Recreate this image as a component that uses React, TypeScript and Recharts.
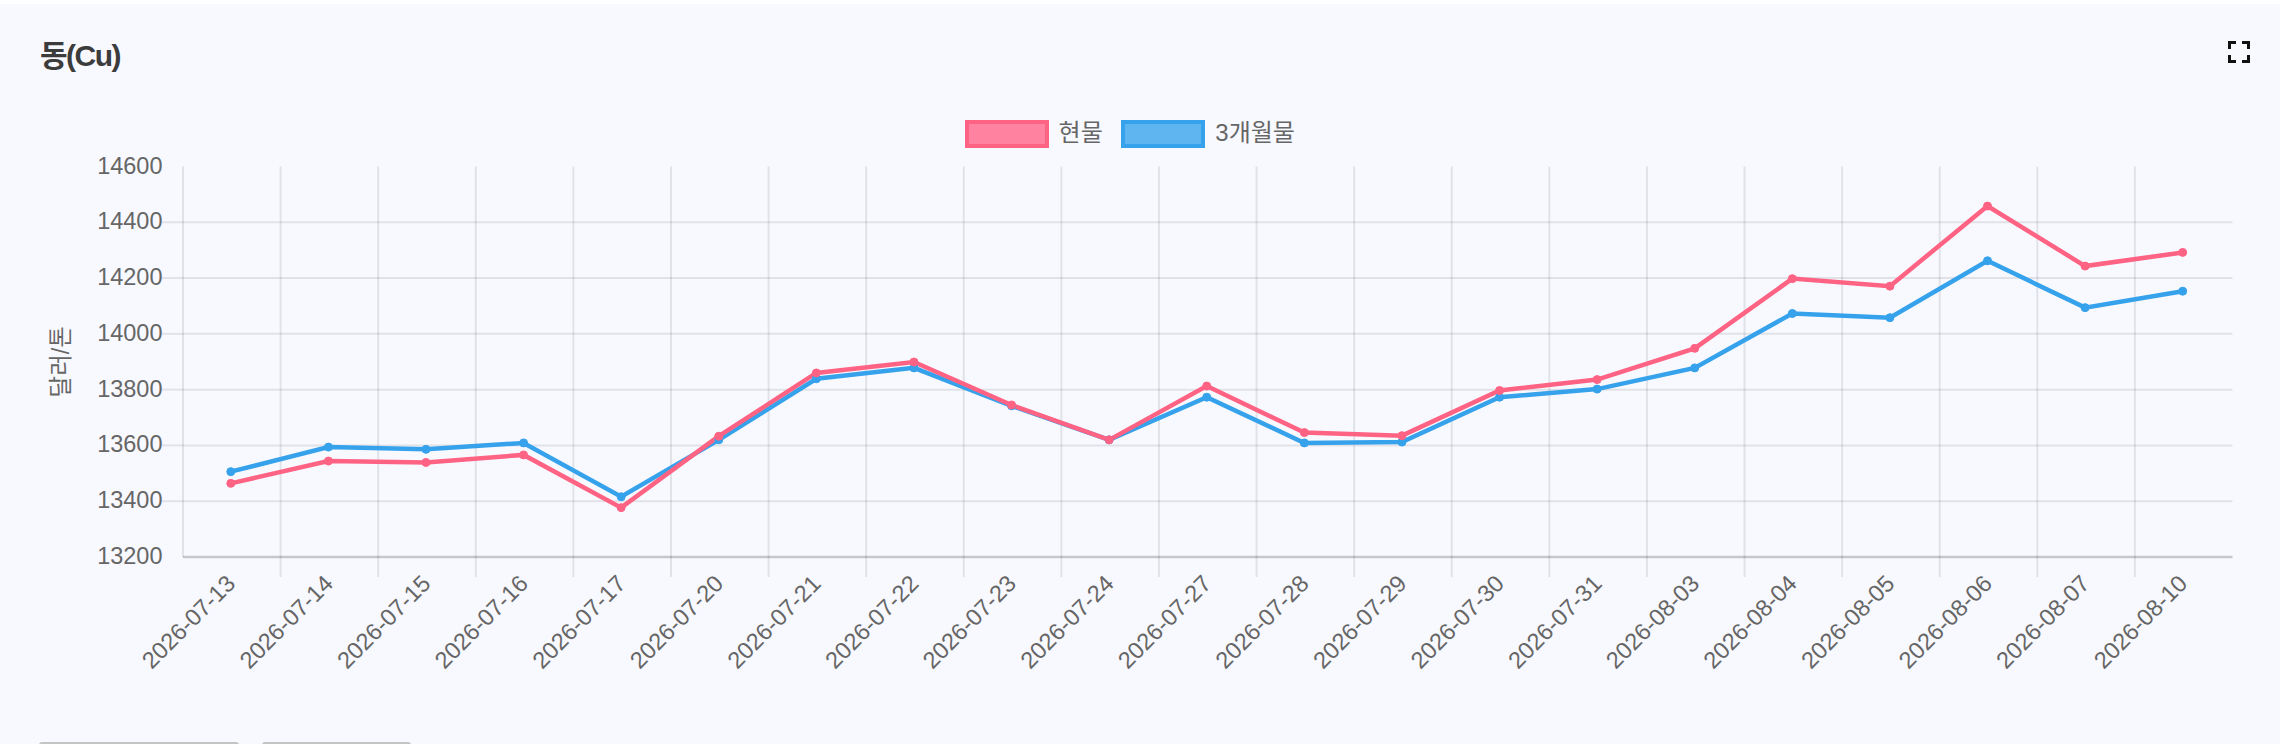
import { CartesianGrid, Legend, Line, LineChart, XAxis, YAxis } from 'recharts'

const dates = [
  '2026-07-13', '2026-07-14', '2026-07-15', '2026-07-16', '2026-07-17', '2026-07-20', '2026-07-21',
  '2026-07-22', '2026-07-23', '2026-07-24', '2026-07-27', '2026-07-28', '2026-07-29', '2026-07-30',
  '2026-07-31', '2026-08-03', '2026-08-04', '2026-08-05', '2026-08-06', '2026-08-07', '2026-08-10',
]
const spot = [
  13464, 13544, 13539, 13566, 13377, 13633, 13860, 13899, 13745, 13620, 13813,
  13646, 13635, 13797, 13836, 13948, 14198, 14171, 14458, 14243, 14292,
]
const threeMonth = [
  13506, 13594, 13586, 13609, 13416, 13620, 13839, 13878, 13742, 13620, 13773,
  13609, 13612, 13773, 13802, 13878, 14073, 14058, 14262, 14094, 14153,
]
const yTicks = [13200, 13400, 13600, 13800, 14000, 14200, 14400, 14600]
const innerGridValues = [13400, 13600, 13800, 14000, 14200, 14400]

const data = dates.map((date, i) => ({ date, spot: spot[i], threeMonth: threeMonth[i] }))

const WIDTH = 2280
const HEIGHT = 744
const PLOT_LEFT = 183
const PLOT_RIGHT = 2232.5
const BAND = (PLOT_RIGHT - PLOT_LEFT) / dates.length
const POINT_SHIFT = 1
const GRID = 'rgba(0,0,0,0.09)'
const TEXT = '#666'
const FONT = 'Liberation Sans, Arial, sans-serif'
const KR_FONT = '"Liberation Sans", "Noto Sans CJK KR", sans-serif'

const legendFill: Record<string, string> = { spot: '#ff83a0', threeMonth: '#5eb5f0' }

function XTick({ x, y, payload, index }: any) {
  const lineX = x - BAND / 2 + POINT_SHIFT
  return (
    <g>
      {index > 0 && <line x1={lineX} x2={lineX} y1={y - 20} y2={y} stroke={GRID} strokeWidth={2} />}
      <text
        x={x + 6}
        y={y + 8}
        textAnchor="end"
        fontSize={23.5}
        fontFamily={FONT}
        fill={TEXT}
        transform={`rotate(-45 ${x + 6} ${y + 8})`}
      >
        {payload.value}
      </text>
    </g>
  )
}

function YTick({ x, y, payload }: any) {
  const inner = innerGridValues.includes(payload.value)
  return (
    <g>
      {inner && <line x1={PLOT_LEFT - 21} x2={PLOT_LEFT} y1={y} y2={y} stroke={GRID} strokeWidth={2} />}
      <text x={162.5} y={y + 7} textAnchor="end" fontSize={23.5} fontFamily={FONT} fill={TEXT}>
        {payload.value}
      </text>
    </g>
  )
}

function LegendContent({ payload }: any) {
  return (
    <div style={{ display: 'flex', justifyContent: 'center', alignItems: 'center', height: 28, marginLeft: -2 }}>
      {[...(payload ?? [])].reverse().map((item: any) => (
        <div key={item.dataKey} style={{ display: 'flex', alignItems: 'center', marginRight: 18.5 }}>
          <span
            style={{
              display: 'inline-block',
              width: 84,
              height: 28,
              boxSizing: 'border-box',
              border: `4px solid ${item.color}`,
              background: legendFill[item.dataKey],
              marginRight: 10,
            }}
          />
          <span style={{ fontSize: 24, lineHeight: '24px', marginTop: -3, color: TEXT, fontFamily: KR_FONT }}>
            {item.value}
          </span>
        </div>
      ))}
    </div>
  )
}

function FullscreenIcon() {
  return (
    <svg width={22} height={22} viewBox="0 0 22 22" style={{ position: 'absolute', left: 2228, top: 41 }}>
      <path
        d="M1.5 8V1.5H8M14 1.5H20.5V8M20.5 14V20.5H14M8 20.5H1.5V14"
        fill="none"
        stroke="#111"
        strokeWidth={3}
      />
    </svg>
  )
}

export default function App() {
  return (
    <div style={{ position: 'absolute', left: 0, top: 0, width: WIDTH, height: HEIGHT, background: '#fff', overflow: 'hidden' }}>
      <div style={{ position: 'absolute', left: 0, top: 4, width: WIDTH, height: HEIGHT - 4, background: '#f8f9ff' }} />
      <div
        style={{
          position: 'absolute',
          left: 40,
          top: 36,
          fontSize: 30,
          lineHeight: '40px',
          fontWeight: 700,
          color: '#3c3c3c',
          letterSpacing: -1.5,
          fontFamily: KR_FONT,
        }}
      >
        동(Cu)
      </div>
      <FullscreenIcon />
      <div style={{ position: 'absolute', left: 39, top: 742, width: 200, height: 6, borderRadius: 4, background: '#c4c4c4' }} />
      <div style={{ position: 'absolute', left: 262, top: 742, width: 149, height: 6, borderRadius: 4, background: '#c4c4c4' }} />
      <div style={{ position: 'absolute', left: 0, top: 0 }}>
        <LineChart
          width={WIDTH}
          height={HEIGHT}
          data={data}
          margin={{ top: 166.5, right: WIDTH - PLOT_RIGHT, bottom: 0, left: 0 }}
        >
          <CartesianGrid
            stroke={GRID}
            strokeWidth={2}
            horizontalValues={innerGridValues}
            verticalCoordinatesGenerator={({ offset }: any) => dates.map((_, i) => offset.left + i * BAND)}
          />
          <XAxis
            dataKey="date"
            height={187}
            interval={0}
            padding={{ left: BAND / 2 - POINT_SHIFT, right: BAND / 2 + POINT_SHIFT }}
            tick={<XTick />}
            tickLine={false}
            axisLine={{ stroke: 'rgba(0,0,0,0.2)', strokeWidth: 2.5 }}
            tickSize={20}
            tickMargin={0}
          />
          <YAxis
            width={PLOT_LEFT}
            domain={[13200, 14600]}
            ticks={yTicks}
            tick={<YTick />}
            tickLine={false}
            axisLine={false}
            label={{
              value: '달러/톤',
              angle: -90,
              position: 'insideLeft',
              offset: 61,
              style: { fontSize: 23.5, fill: TEXT, fontFamily: KR_FONT, textAnchor: 'middle' },
            }}
          />
          <Legend
            verticalAlign="middle"
            content={<LegendContent />}
            wrapperStyle={{ top: 120, left: 0, width: WIDTH }}
          />
          <Line
            dataKey="threeMonth"
            name="3개월물"
            stroke="#36a2eb"
            strokeWidth={4.5}
            dot={{ r: 4, fill: '#36a2eb', stroke: '#36a2eb', strokeWidth: 1 }}
            isAnimationActive={false}
          />
          <Line
            dataKey="spot"
            name="현물"
            stroke="#ff6384"
            strokeWidth={4.5}
            dot={{ r: 4, fill: '#ff6384', stroke: '#ff6384', strokeWidth: 1 }}
            isAnimationActive={false}
          />
        </LineChart>
      </div>
    </div>
  )
}
